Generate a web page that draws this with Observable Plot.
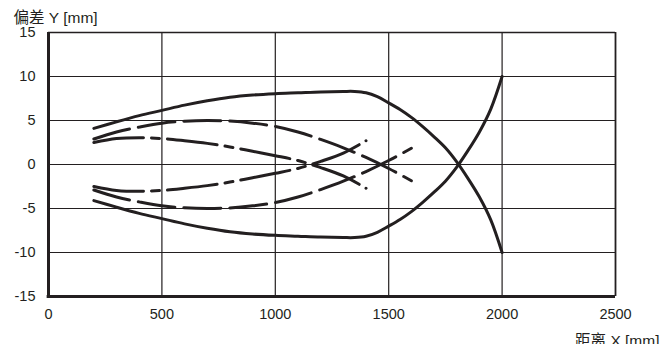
<!DOCTYPE html>
<html><head><meta charset="utf-8">
<script src="https://cdn.jsdelivr.net/npm/d3@7"></script>
<script src="https://cdn.jsdelivr.net/npm/@observablehq/plot@0.6"></script>
<style>body{margin:0;background:#fff}svg{display:block}</style>
</head><body><div id="chart"></div>
<script>
const xTicks = [0, 500, 1000, 1500, 2000, 2500];
const yTicks = [-15, -10, -5, 0, 5, 10, 15];
const yTitle = "偏差 Y [mm]";
const xTitle = "距离 X [mm]";

// Solid curve (upper branch; lower branch is its mirror)
const solidX = [200, 300, 400, 500, 600, 700, 800, 900, 1000, 1100, 1200, 1300, 1350, 1400, 1450, 1500, 1550, 1600, 1650, 1700, 1750, 1800, 1850, 1900, 1950, 2000];
const solidY = [4.1, 4.85, 5.55, 6.15, 6.75, 7.25, 7.65, 7.9, 8.05, 8.15, 8.25, 8.3, 8.3, 8.15, 7.7, 7.0, 6.25, 5.35, 4.3, 3.15, 1.9, 0.3, -1.6, -3.7, -6.3, -10];
// Long dashed curve
const longDashX = [200, 300, 400, 500, 600, 700, 800, 900, 1000, 1100, 1200, 1300, 1400, 1500, 1600];
const longDashY = [2.9, 3.7, 4.25, 4.7, 4.92, 5.0, 4.93, 4.7, 4.33, 3.7, 2.85, 1.9, 0.8, -0.45, -1.85];
// Dash-dot curve
const dashDotX = [200, 300, 400, 500, 600, 700, 800, 900, 1000, 1100, 1200, 1300, 1400];
const dashDotY = [2.5, 2.95, 3.05, 2.95, 2.7, 2.4, 2.0, 1.5, 1.0, 0.45, -0.35, -1.3, -2.7];

const ink = "#231f20";
function rows(xs, ys, name) {
  const up = xs.map((x, i) => ({x, y: ys[i], z: name + "-up"}));
  const dn = xs.map((x, i) => ({x, y: -ys[i], z: name + "-dn"}));
  return up.concat(dn);
}
const solid = rows(solidX, solidY, "solid");
const longDash = rows(longDashX, longDashY, "long");
const dashDot = rows(dashDotX, dashDotY, "dd");
const fmt = d => String(d);

const chart = Plot.plot({
  width: 669, height: 344,
  marginLeft: 48, marginRight: 54, marginTop: 32, marginBottom: 48,
  style: {fontFamily: "'Liberation Sans', Arial, 'Noto Sans CJK SC', sans-serif", fontSize: "14px", color: ink, background: "#fff"},
  x: {domain: [0, 2500], ticks: xTicks},
  y: {domain: [-15, 15], ticks: yTicks},
  marks: [
    Plot.ruleX(xTicks.slice(1, -1), {stroke: ink, strokeWidth: 1.2}),
    Plot.ruleY(yTicks.slice(1, -1), {stroke: ink, strokeWidth: 1.2}),
    Plot.ruleX([xTicks[xTicks.length - 1]], {stroke: ink, strokeWidth: 1.8}),
    Plot.ruleY([yTicks[yTicks.length - 1]], {stroke: ink, strokeWidth: 1.6}),
    Plot.line(solid, {x: "x", y: "y", z: "z", stroke: ink, strokeWidth: 3, curve: "catmull-rom"}),
    Plot.line(longDash, {x: "x", y: "y", z: "z", stroke: ink, strokeWidth: 3, strokeDasharray: "37,9", curve: "catmull-rom"}),
    Plot.line(dashDot, {x: "x", y: "y", z: "z", stroke: ink, strokeWidth: 3, strokeDasharray: "50,8,8,8", curve: "catmull-rom"}),
    Plot.ruleX([xTicks[0]], {stroke: ink, strokeWidth: 3, y1: -15.2, y2: 15}),
    Plot.ruleY([yTicks[0]], {stroke: ink, strokeWidth: 3, x1: -6, x2: 2500}),
    Plot.axisX({ticks: xTicks, tickFormat: fmt, tickSize: 0, tickPadding: 12, fontSize: 14.5, label: null, fill: ink}),
    Plot.axisY({ticks: yTicks, tickFormat: fmt, tickSize: 0, tickPadding: 13, fontSize: 14.5, label: null, fill: ink}),
    Plot.text([yTitle], {frameAnchor: "top-left", textAnchor: "start", lineAnchor: "top", dx: -35, dy: -21, fontSize: 15.5, fill: ink}),
    Plot.text([xTitle], {frameAnchor: "bottom-right", textAnchor: "end", lineAnchor: "top", dx: 44, dy: 38, fontSize: 15.5, fill: ink})
  ]
});
document.getElementById("chart").append(chart);
</script></body></html>
